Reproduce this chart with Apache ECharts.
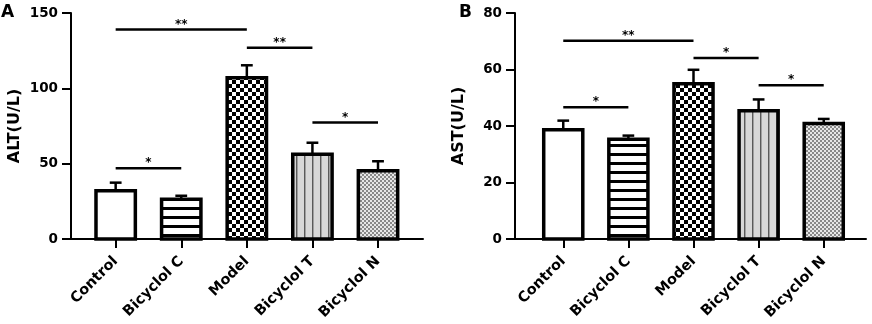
<!DOCTYPE html>
<html>
<head>
<meta charset="utf-8">
<script src="https://cdn.jsdelivr.net/npm/echarts@6/dist/echarts.min.js"></script>
<style>
html,body{margin:0;padding:0;background:#fff;}
#chart{width:872px;height:324px;}
</style>
</head>
<body>
<div id="chart"></div>
<script>
// ---- data ----
var categories = ['Control', 'Bicyclol C', 'Model', 'Bicyclol T', 'Bicyclol N'];
var altMean = [32.0, 26.3, 107.0, 56.2, 45.3];
var altSD = [5.4, 2.4, 8.3, 7.7, 6.3];
var astMean = [38.7, 35.3, 55.0, 45.4, 40.9];
var astSD = [3.2, 1.3, 4.9, 4.0, 1.6];
// significance brackets: [from category, to category, height, label]
var altSig = [[0, 2, 139.0, '**'], [2, 3, 127.0, '**'], [0, 1, 47.0, '*'], [3, 4, 77.4, '*']];
var astSig = [[0, 2, 70.2, '**'], [2, 3, 64.1, '*'], [0, 1, 46.6, '*'], [3, 4, 54.4, '*']];
var altTicks = [0, 50, 100, 150];
var astTicks = [0, 20, 40, 60, 80];

var FONT = '"DejaVu Sans", "Liberation Sans", Arial, sans-serif';

function pattern(w, h, draw) {
  var c = document.createElement('canvas');
  c.width = w; c.height = h;
  var g = c.getContext('2d');
  draw(g, w, h);
  return {image: c, repeat: 'repeat'};
}
var fills = [
  '#ffffff',
  pattern(9, 9, function (g) { g.fillStyle = '#fff'; g.fillRect(0, 0, 9, 9); g.fillStyle = '#000'; g.fillRect(0, 0, 9, 3); }),
  pattern(8, 8, function (g) { g.fillStyle = '#fff'; g.fillRect(0, 0, 8, 8); g.fillStyle = '#000'; g.fillRect(0, 0, 4, 4); g.fillRect(4, 4, 4, 4); }),
  pattern(8, 8, function (g) { g.fillStyle = '#d8d8d8'; g.fillRect(0, 0, 8, 8); g.fillStyle = '#5a5a5a'; g.fillRect(0, 0, 1, 8); g.fillStyle = '#a0a0a0'; g.fillRect(1, 0, 1, 8); }),
  pattern(4, 4, function (g) { g.fillStyle = '#e6e6e6'; g.fillRect(0, 0, 4, 4); g.fillStyle = '#888'; g.fillRect(0, 0, 2, 2); g.fillRect(2, 2, 2, 2); })
];

var BW = 0.60;   // bar width in category units
var CAP = 0.09;  // half cap width

function barRender(params, api) {
  var x = api.value(0), v = api.value(1);
  var p0 = api.coord([x - BW / 2, v]);
  var p1 = api.coord([x + BW / 2, 0]);
  return {
    type: 'rect',
    shape: {x: p0[0], y: p0[1], width: p1[0] - p0[0], height: p1[1] - p0[1]},
    style: {fill: fills[params.dataIndex], stroke: '#000', lineWidth: 3.5}
  };
}
function errRender(params, api) {
  var x = api.value(0), m = api.value(1), t = api.value(2);
  var a = api.coord([x, m]), b = api.coord([x, t]);
  var c0 = api.coord([x - CAP, t]), c1 = api.coord([x + CAP, t]);
  return {
    type: 'group',
    children: [
      {type: 'line', shape: {x1: a[0], y1: a[1], x2: b[0], y2: b[1]}, style: {stroke: '#000', lineWidth: 2.5}},
      {type: 'line', shape: {x1: c0[0], y1: c0[1], x2: c1[0], y2: c1[1]}, style: {stroke: '#000', lineWidth: 2.5}}
    ]
  };
}
function sigRender(sig) {
  return function (params, api) {
    var a = api.coord([api.value(0), api.value(2)]);
    var b = api.coord([api.value(1), api.value(2)]);
    return {
      type: 'group',
      children: [
        {type: 'line', shape: {x1: a[0], y1: a[1], x2: b[0], y2: b[1]}, style: {stroke: '#000', lineWidth: 2.5}},
        {type: 'text', style: {text: sig[params.dataIndex][3], x: (a[0] + b[0]) / 2, y: a[1] + 1,
          align: 'center', verticalAlign: 'bottom', font: 'bold 12px ' + FONT, fill: '#000'}}
      ]
    };
  };
}

function xAxis(gi, min, max) {
  return {
    type: 'value', gridIndex: gi, min: min, max: max,
    splitLine: {show: false},
    axisLine: {show: true, onZero: false, lineStyle: {color: '#000', width: 2}},
    axisTick: {show: true, customValues: [0, 1, 2, 3, 4], length: 9, lineStyle: {color: '#000', width: 2}},
    axisLabel: {show: true, customValues: [0, 1, 2, 3, 4], rotate: 45, margin: 20,
      formatter: function (v) { return categories[Math.round(v)]; },
      fontFamily: FONT, fontWeight: 'bold', fontSize: 14.5, color: '#000'}
  };
}
function yAxis(gi, ticks, name) {
  return {
    type: 'value', gridIndex: gi, min: ticks[0], max: ticks[ticks.length - 1],
    interval: ticks[1] - ticks[0],
    name: name, nameLocation: 'middle', nameRotate: 90, nameGap: 48,
    nameTextStyle: {fontFamily: FONT, fontWeight: 'bold', fontSize: 16, color: '#000'},
    splitLine: {show: false},
    axisLine: {show: true, onZero: false, lineStyle: {color: '#000', width: 2}},
    axisTick: {show: true, length: 9, lineStyle: {color: '#000', width: 2}},
    axisLabel: {margin: 13, fontFamily: FONT, fontWeight: 'bold', fontSize: 13.5, color: '#000'}
  };
}

function panelSeries(gi, mean, sd, sig) {
  return [
    {type: 'custom', xAxisIndex: gi, yAxisIndex: gi, renderItem: errRender, z: 2,
      encode: {x: 0, y: [1, 2]},
      data: mean.map(function (m, i) { return [i, m, m + sd[i]]; })},
    {type: 'custom', xAxisIndex: gi, yAxisIndex: gi, renderItem: barRender, z: 3,
      encode: {x: 0, y: 1},
      data: mean.map(function (m, i) { return [i, m]; })},
    {type: 'custom', xAxisIndex: gi, yAxisIndex: gi, renderItem: sigRender(sig), z: 4,
      encode: {x: [0, 1], y: 2},
      data: sig.map(function (s) { return [s[0], s[1], s[2]]; })}
  ];
}

var chart = echarts.init(document.getElementById('chart'), null, {renderer: 'canvas'});
chart.setOption({
  animation: false,
  backgroundColor: '#fff',
  title: [
    {text: 'A', left: 1, top: 4, padding: 0, textStyle: {fontFamily: FONT, fontWeight: 'bold', fontSize: 17, color: '#000'}},
    {text: 'B', left: 459, top: 4, padding: 0, textStyle: {fontFamily: FONT, fontWeight: 'bold', fontSize: 17, color: '#000'}}
  ],
  grid: [
    {left: 71, top: 13, width: 352, height: 226, containLabel: false},
    {left: 515, top: 13, width: 351, height: 226, containLabel: false}
  ],
  xAxis: [xAxis(0, -0.681, 4.686), xAxis(1, -0.741, 4.649)],
  yAxis: [yAxis(0, altTicks, 'ALT(U/L)'), yAxis(1, astTicks, 'AST(U/L)')],
  series: panelSeries(0, altMean, altSD, altSig).concat(panelSeries(1, astMean, astSD, astSig))
});
</script>
</body>
</html>
